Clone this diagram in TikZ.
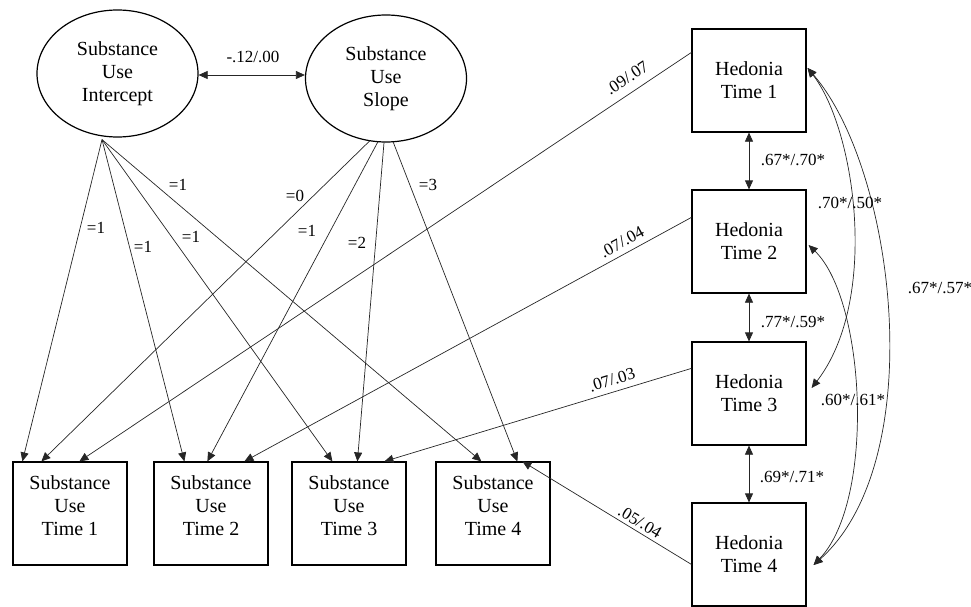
\documentclass[tikz,border=0pt]{standalone}
\usepackage{fontspec}
\setmainfont{LiberationSerif-Regular.ttf}
\usetikzlibrary{shapes.geometric,arrows.meta}
\begin{document}
\begin{tikzpicture}[x=1pt,y=-1pt,
  sbox/.style={draw, line width=1.2pt, minimum width=114pt, minimum height=103pt, inner sep=0pt, align=center, font=\fontsize{20}{23}\selectfont},
  ell/.style={ellipse, draw, line width=1.2pt, minimum width=161pt, minimum height=127pt, inner sep=0pt, align=center, font=\fontsize{20}{23}\selectfont},
  arr/.style={-{Triangle[length=9pt,width=8pt]}, line width=0.7pt, draw=black!85},
  dbl/.style={{Triangle[length=9pt,width=8pt]}-{Triangle[length=9pt,width=8pt]}, line width=0.7pt, draw=black!85},
  coef/.style={font=\fontsize{17}{19}\selectfont, inner sep=1pt},
  wcoef/.style={coef, fill=white}]

\useasboundingbox (0,0) rectangle (971,607);

% latent factors
\node[ell] (int) at (117.5,73.5) {Substance\\Use\\Intercept};
\node[ell] (slo) at (386,78.5) {Substance\\Use\\Slope};

% hedonia boxes
\node[sbox] (h1) at (749,80.5) {Hedonia\\Time 1};
\node[sbox] (h2) at (749,241.5) {Hedonia\\Time 2};
\node[sbox] (h3) at (749,393.5) {Hedonia\\Time 3};
\node[sbox] (h4) at (749,554.5) {Hedonia\\Time 4};

% substance use boxes
\node[sbox] (s1) at (70,513.5) {Substance\\Use\\Time 1\\[-7pt]\mbox{}};
\node[sbox] (s2) at (211,513.5) {Substance\\Use\\Time 2\\[-7pt]\mbox{}};
\node[sbox] (s3) at (349,513.5) {Substance\\Use\\Time 3\\[-7pt]\mbox{}};
\node[sbox] (s4) at (493,513.5) {Substance\\Use\\Time 4\\[-7pt]\mbox{}};

% covariance between factors
\draw[dbl] ([yshift=-1.5pt]int.east) -- ([yshift=3.5pt]slo.west);
\node[coef] (cif) at (253,57) {-.12/.00};

% intercept loadings
\coordinate (is) at ([xshift=-15.5pt,yshift=-2pt]int.south);
\draw[arr] (is) -- ([xshift=10pt]s1.north west);
\draw[arr] (is) -- ([xshift=31pt]s2.north west);
\draw[arr] (is) -- ([xshift=41pt]s3.north west);
\draw[arr] (is) -- ([xshift=46pt]s4.north west);

% slope loadings
\draw[arr] ([xshift=-16pt,yshift=2pt]slo.south) -- ([xshift=29pt]s1.north west);
\draw[arr] ([xshift=-8pt,yshift=1pt]slo.south) -- ([xshift=54pt]s2.north west);
\draw[arr] ([xshift=-2pt]slo.south) -- ([xshift=66pt]s3.north west);
\draw[arr] ([xshift=7pt,yshift=1pt]slo.south) -- ([xshift=82pt]s4.north west);

% hedonia -> substance use
\draw[arr] ([yshift=-24pt]h1.north west) -- ([xshift=67pt]s1.north west);
\draw[arr] ([yshift=-28pt]h2.north west) -- ([xshift=91pt]s2.north west);
\draw[arr] ([yshift=-27pt]h3.north west) -- ([xshift=93pt]s3.north west);
\draw[arr] ([yshift=-62pt]h4.north west) -- ([xshift=87pt]s4.north west);

% loading labels
\node[wcoef] (l1) at (96,228) {=1};
\node[wcoef] (l2) at (143,247) {=1};
\node[wcoef] (l3) at (191,237) {=1};
\node[wcoef] (l4) at (178,185) {=1};
\node[wcoef] (m1) at (295,196) {=0};
\node[wcoef] (m2) at (307,231) {=1};
\node[wcoef] (m3) at (357,243) {=2};
\node[wcoef] (m4) at (428,185) {=3};

% cross-lag labels
\node[coef, rotate=33.7] (c1) at (627,78) {.09/.07};
\node[coef, rotate=28.6] (c2) at (622,242) {.07/.04};
\node[coef, rotate=17] (c3) at (612,380) {.07/.03};
\node[coef, rotate=-30.6] (c4) at (640,522) {.05/.04};

% hedonia adjacent covariances
\draw[dbl] (h1.south) -- (h2.north);
\draw[dbl] (h2.south) -- (h3.north);
\draw[dbl] (h3.south) -- (h4.north);
\node[coef] (v1) at (793,160) {.67*/.70*};
\node[coef] (v2) at (793,322) {.77*/.59*};
\node[coef] (v3) at (792,477) {.69*/.71*};

% hedonia distant covariances
\draw[dbl] ([xshift=1pt,yshift=12.5pt]h1.east) .. controls +(48,62) and +(68,-88) .. ([xshift=5pt,yshift=5.5pt]h3.east);
\draw[dbl] ([xshift=2pt,yshift=-3.5pt]h2.east) .. controls +(57,55) and +(62,-65) .. ([xshift=7pt,yshift=-10.5pt]h4.east);
\draw[dbl] ([xshift=1pt,yshift=12.5pt]h1.east) .. controls +(88,102) and +(117,-105) .. ([xshift=7pt,yshift=-10.5pt]h4.east);
\node[coef] (r1) at (850,203) {.70*/.50*};
\node[coef] (r2) at (853,400) {.60*/.61*};
\node[coef] (r3) at (940,288) {.67*/.57*};

\end{tikzpicture}
\end{document}
